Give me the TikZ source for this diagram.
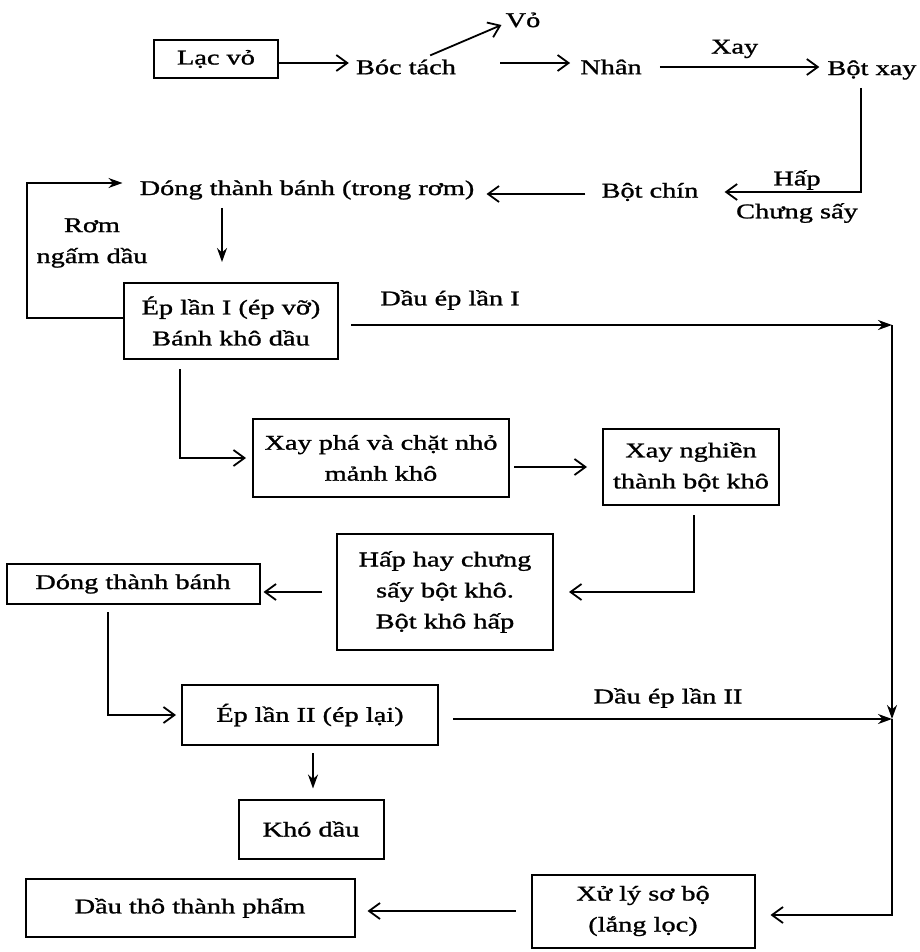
\documentclass[tikz,border=0pt]{standalone}
\usepackage{fontspec}
\setmainfont{Liberation Serif}[FakeStretch=1.35, FakeBold=1.2]
\usetikzlibrary{arrows.meta}

\tikzset{
  box/.style={draw, line width=2pt, inner sep=0pt, align=center},
  lbl/.style={inner sep=4pt, align=center},
  arr/.style={line width=1.8pt, -{Straight Barb[length=11pt,width=16pt,line width=1.8pt]}},
  arrf/.style={line width=1.8pt, -{Stealth[length=14pt,width=10pt]}}
}

\begin{document}
\begin{tikzpicture}[x=1pt, y=-1pt, font=\fontsize{21}{31}\selectfont]
    \useasboundingbox (0,0) rectangle (919,952);

    % Nodes
    \node[box, minimum width=124pt, minimum height=38pt] (lacvo) at (216,59) {Lạc vỏ};
    \node[lbl] (boctach) at (406,67) {Bóc tách};
    \node[lbl] (vo) at (523,20) {Vỏ};
    \node[lbl] (nhan) at (611,67) {Nhân};
    \node[lbl] (botxay) at (872,70) {Bột xay};
    \node[lbl] (hap) at (797,180) {Hấp};
    \node[lbl] (chungsay) at (797,213) {Chưng sấy};
    \node[lbl] (botchin) at (650,192) {Bột chín};
    \node[lbl] (dong1) at (307,190) {Dóng thành bánh (trong rơm)};
    \node[lbl] (rom) at (92,243) {Rơm\\ngấm dầu};
    \node[box, minimum width=214pt, minimum height=76pt] (ep1) at (231,321) {Ép lần I (ép vỡ)\\Bánh khô dầu};
    \node[lbl] (dauep1) at (450,300) {Dầu ép lần I};
    \node[box, minimum width=256pt, minimum height=78pt] (xaypha) at (381,458) {Xay phá và chặt nhỏ\\mảnh khô};
    \node[box, minimum width=176pt, minimum height=76pt] (xaynghien) at (691,467) {Xay nghiền\\thành bột khô};
    \node[box, minimum width=216pt, minimum height=116pt] (hapkho) at (445,592) {Hấp hay chưng\\sấy bột khô.\\Bột khô hấp};
    \node[box, minimum width=253pt, minimum height=40pt] (dong2) at (133,584) {Dóng thành bánh};
    \node[box, minimum width=256pt, minimum height=60pt] (ep2) at (310,715) {Ép lần II (ép lại)};
    \node[lbl] (dauep2) at (668,698) {Dầu ép lần II};
    \node[box, minimum width=145pt, minimum height=59pt] (khodau) at (311,829) {Khó dầu};
    \node[box, minimum width=223pt, minimum height=73pt] (xuly) at (643,911) {Xử lý sơ bộ\\(lắng lọc)};
    \node[box, minimum width=329pt, minimum height=58pt] (dautho) at (190,908) {Dầu thô thành phẩm};

    % Oil collecting line
    \coordinate (ctop) at (892,325);
    \coordinate (cmid) at (892,719);

    % Edges
    \draw[arr, shorten >=3pt] ([yshift=-4pt]lacvo.east) -- ([yshift=-4pt]lacvo.east -| boctach.west);
    \draw[arr, shorten <=40pt, shorten >=6pt] ([yshift=4pt]boctach.east) -- ([yshift=4pt]boctach.east -| nhan.west);
    \draw[arr] ([xshift=-30pt]boctach.north east) -- ([yshift=-5pt]vo.west);
    \draw[arr, shorten <=14pt, shorten >=4pt] (nhan.east) -- node[lbl, above=4pt] (xay) {Xay} (nhan.east -| botxay.west);
    \draw[arr, shorten >=22pt] ([xshift=-11pt, yshift=-4pt]botxay.south) |- (botchin.east);
    \draw[arr, shorten <=12pt, shorten >=8pt] ([yshift=-2pt]botchin.west) -- ([yshift=-2pt]botchin.west -| dong1.east);
    \draw[arrf, shorten >=20pt] ([xshift=-9pt, yshift=-4pt]dong1.south -| ep1.north) -- ([xshift=-9pt]ep1.north);
    \draw[arrf, shorten >=13pt] ([yshift=3pt]ep1.west) -- ++(-96,0) |- ([yshift=7pt]dong1.west);
    \draw[arrf, shorten <=12pt] ([yshift=-4pt]ep1.east) -- (ctop);
    \draw[arr, shorten <=9pt, shorten >=6pt] ([xshift=-51pt]ep1.south) |- (xaypha.west);
    \draw[arr, shorten <=4pt, shorten >=15pt] (xaypha.east |- xaynghien) -- (xaynghien.west);
    \draw[arr, shorten <=9pt, shorten >=15pt] ([xshift=3pt]xaynghien.south) |- (hapkho.east);
    \draw[arr, shorten <=14pt, shorten >=3pt] (hapkho.west) -- (hapkho.west -| dong2.east);
    \draw[arr, shorten <=7pt, shorten >=5pt] ([xshift=-25pt]dong2.south) |- (ep2.west);
    \draw[arrf, shorten <=7pt, shorten >=10pt] ([xshift=3pt]ep2.south) -- ([xshift=3pt]ep2.south |- khodau.north);
    \draw[arrf, shorten <=14pt] ([yshift=-4pt]ep2.east) -- (cmid);
    \draw[arrf] (ctop) -- (cmid);
    \draw[arr, shorten >=15pt] (cmid) |- ([yshift=-4pt]xuly.east);
    \draw[arr, shorten <=15pt, shorten >=12pt] (xuly.west) -- (xuly.west -| dautho.east);
\end{tikzpicture}
\end{document}
